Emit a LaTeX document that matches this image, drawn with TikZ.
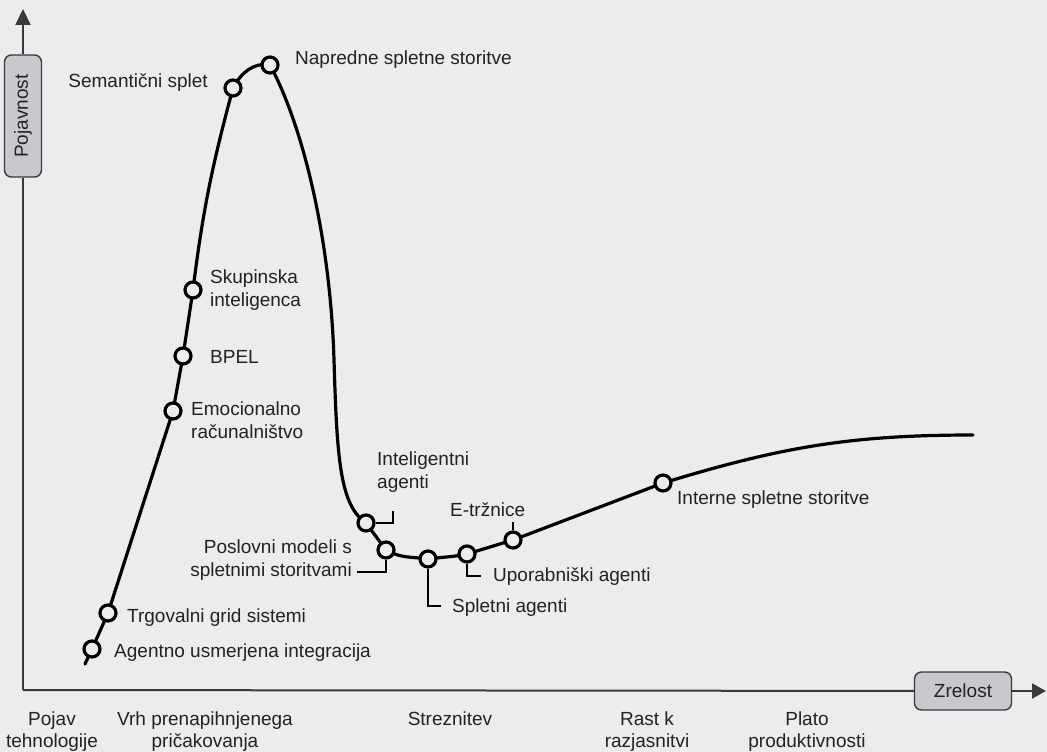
\documentclass[tikz,border=0pt]{standalone}
\usepackage{fontspec}
\setmainfont{Liberation Sans}
\usetikzlibrary{arrows.meta}
\definecolor{bg}{HTML}{ECECEE}
\definecolor{ink}{HTML}{222222}
\definecolor{axisc}{HTML}{3A3A3A}
\definecolor{boxfill}{HTML}{C8C9CC}
\begin{document}
\begin{tikzpicture}[x=1pt,y=1pt,
  every node/.style={font=\fontsize{19}{23}\selectfont, text=ink},
  pt/.style={circle, draw=black, line width=3.2pt, fill=bg, minimum size=16pt, inner sep=0pt},
  curve/.style={line width=3.2pt, black, line cap=round},
  leader/.style={line width=1.8pt, black},
  axisline/.style={line width=2pt, axisc},
  axisbox/.style={draw=axisc, line width=1.4pt, fill=boxfill, rounded corners=7pt, inner sep=0pt},
  lbl/.style={inner sep=0pt, align=left},
  stage/.style={inner sep=0pt, align=center, anchor=north, font=\fontsize{19}{22}\selectfont},
]
\fill[bg] (0,0) rectangle (1047,-752);
\useasboundingbox (0,0) rectangle (1047,-752);

% axes
\coordinate (O) at (23,-690);
\coordinate (ytip) at (23,-9);
\coordinate (xtip) at (1046,-691);
\node[axisbox, rotate=90, minimum width=122pt, minimum height=37pt] (ybox) at (23,-116) {Pojavnost};
\node[axisbox, minimum width=97pt, minimum height=38pt] (xbox) at (963,-691) {Zrelost};
\draw[axisline] (O) -- (ybox);
\draw[axisline, -{Triangle[length=16pt,width=15pt]}] (ybox) -- (ytip);
\draw[axisline] (O) -- (xbox);
\draw[axisline, -{Triangle[length=14pt,width=15pt]}] (xbox) -- (xtip);

% curve coordinates
\coordinate (tail) at (85,-664);
\coordinate (rb) at (334,-360);
\coordinate (cend) at (973,-435);

% curve
\draw[curve] (tail) -- (92,-649);
\draw[curve] (92,-649) -- (108,-613) -- (173,-411) -- (183,-356) -- (193,-290)
  to[out=83,in=-105] (233,-88)
  to[out=62,in=170] (270,-65)
  .. controls (300,-120) and (330,-230) .. (rb)
  .. controls (337,-460) and (340,-505) .. (366,-523)
  -- (386,-550)
  to[out=-30,in=172] (428,-559)
  to[out=8,in=192] (467,-554)
  -- (513,-540)
  -- (663,-483)
  to[out=17,in=180] (cend);

% points
\node[pt] (p1) at (92,-649) {};
\node[pt] (p2) at (108,-613) {};
\node[pt] (p3) at (173,-411) {};
\node[pt] (p4) at (183,-356) {};
\node[pt] (p5) at (193,-290) {};
\node[pt] (p6) at (233,-88) {};
\node[pt] (p7) at (270,-65) {};
\node[pt] (p8) at (366,-523) {};
\node[pt] (p9) at (386,-550) {};
\node[pt] (p10) at (428,-559) {};
\node[pt] (p11) at (467,-554) {};
\node[pt] (p12) at (513,-540) {};
\node[pt] (p13) at (663,-483) {};

% leaders
\coordinate (il) at (393,-511);
\coordinate (pl) at (357,-572);
\coordinate (sl) at (441,-606);
\coordinate (ul) at (481,-576);
\coordinate (el) at (513,-522);
\draw[leader] (p8.east) -- (p8.east -| il) -- (il);
\draw[leader] (p9.south) |- (pl);
\draw[leader] (p10.south) |- (sl);
\draw[leader] (p11.south) |- (ul);
\draw[leader] (p12.north) -- (el);

% labels
\node[lbl, anchor=east] (t6) at (208,-83) {Semantični splet};
\node[lbl, anchor=west] (t7) at (295,-60) {Napredne spletne storitve};
\node[lbl, anchor=west] (t5) at (210,-290) {Skupinska\\inteligenca};
\node[lbl, anchor=west] (t4) at (210,-357) {BPEL};
\node[lbl, anchor=west] (t3) at (191,-420) {Emocionalno\\računalništvo};
\node[lbl, anchor=west] (t2) at (127,-618) {Trgovalni grid sistemi};
\node[lbl, anchor=west] (t1) at (114,-653) {Agentno usmerjena integracija};
\node[lbl, align=right, anchor=east] (t9) at (352,-560) {Poslovni modeli s\\spletnimi storitvami};
\node[lbl, anchor=west] (t8) at (377,-472) {Inteligentni\\agenti};
\node[lbl, anchor=west] (t12) at (450,-510) {E-tržnice};
\node[lbl, anchor=west] (t11) at (493,-577) {Uporabniški agenti};
\node[lbl, anchor=west] (t10) at (452,-608) {Spletni agenti};
\node[lbl, anchor=west] (t13) at (677,-500) {Interne spletne storitve};

% stages
\node[stage] (s1) at (52,-712) {Pojav\\tehnologije};
\node[stage] (s2) at (205,-712) {Vrh prenapihnjenega\\pričakovanja};
\node[stage] (s3) at (450,-712) {Streznitev};
\node[stage] (s4) at (647,-712) {Rast k\\razjasnitvi};
\node[stage] (s5) at (807,-712) {Plato\\produktivnosti};
\end{tikzpicture}
\end{document}
